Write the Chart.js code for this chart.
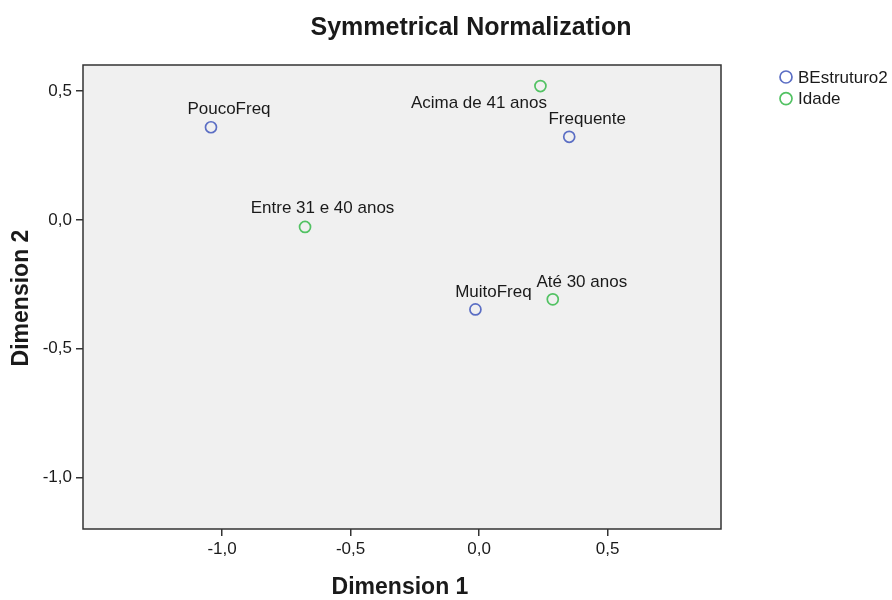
<!DOCTYPE html>
<html><head><meta charset="utf-8">
<script src="https://cdn.jsdelivr.net/npm/chart.js@4"></script>
<style>html,body{margin:0;padding:0;background:#fff}#wrap{width:892px;height:600px;position:relative}</style>
</head><body><div id="wrap"><canvas id="c"></canvas></div>
<script>
// ---- data ----
const chartTitle = 'Symmetrical Normalization';
const xTitle = 'Dimension 1';
const yTitle = 'Dimension 2';
const xTicks = [-1.0, -0.5, 0.0, 0.5];
const yTicks = [-1.0, -0.5, 0.0, 0.5];
const seriesNames = ['BEstruturo2', 'Idade'];
const bestruturoLabels = ['PoucoFreq', 'Frequente', 'MuitoFreq'];
const bestruturoDim1 = [-1.043, 0.351, -0.014];
const bestruturoDim2 = [0.360, 0.323, -0.347];
const idadeLabels = ['Acima de 41 anos', 'Entre 31 e 40 anos', 'Até 30 anos'];
const idadeDim1 = [0.239, -0.677, 0.287];
const idadeDim2 = [0.520, -0.027, -0.308];

// ---- styles ----
const FONT = '"Liberation Sans", Arial, sans-serif';
const colors = ['#5b6ec4', '#52c263'];
// label placement (pixel offsets of text centre / baseline from the marker)
const labelOffsets = [
  [[18, -13], [18, -13], [18, -12]],
  [[-61.5, 22], [17.5, -14], [29, -12.6]]
];
const fmt = v => v.toFixed(1).replace('.', ',');

const mk = (xs, ys) => xs.map((x, i) => ({x: x, y: ys[i]}));
const datasets = [
  {label: seriesNames[0], data: mk(bestruturoDim1, bestruturoDim2), pointLabels: bestruturoLabels},
  {label: seriesNames[1], data: mk(idadeDim1, idadeDim2), pointLabels: idadeLabels}
].map((d, i) => Object.assign(d, {
  borderColor: colors[i], backgroundColor: 'rgba(0,0,0,0)',
  pointRadius: 5.5, pointHoverRadius: 5.5, pointBorderWidth: 1.7, showLine: false
}));

const decor = {
  id: 'decor',
  beforeDatasetsDraw(chart) {
    const {ctx, chartArea: a} = chart;
    ctx.save();
    ctx.fillStyle = '#f0f0f0';
    ctx.fillRect(a.left, a.top, a.right - a.left, a.bottom - a.top);
    ctx.restore();
  },
  afterDatasetsDraw(chart) {
    const {ctx, chartArea: a} = chart;
    ctx.save();
    ctx.strokeStyle = '#333';
    ctx.lineWidth = 1.5;
    ctx.strokeRect(a.left, a.top, a.right - a.left, a.bottom - a.top);
    // point labels
    ctx.fillStyle = '#1a1a1a';
    ctx.font = '17px ' + FONT;
    ctx.textAlign = 'center';
    ctx.textBaseline = 'alphabetic';
    chart.data.datasets.forEach((ds, di) => {
      const meta = chart.getDatasetMeta(di);
      meta.data.forEach((pt, i) => {
        const o = labelOffsets[di][i];
        ctx.fillText(ds.pointLabels[i], pt.x + o[0], pt.y + o[1]);
      });
    });
    // title
    ctx.font = 'bold 25px ' + FONT;
    ctx.textBaseline = 'middle';
    ctx.fillText(chartTitle, 471, 28);
    // axis titles
    ctx.font = 'bold 23px ' + FONT;
    ctx.fillText(xTitle, 400, 588);
    ctx.save();
    ctx.translate(22, 298);
    ctx.rotate(-Math.PI / 2);
    ctx.fillText(yTitle, 0, 0);
    ctx.restore();
    // legend
    ctx.textAlign = 'left';
    ctx.font = '17px ' + FONT;
    chart.data.datasets.forEach((ds, di) => {
      const y = 77 + di * 21.6;
      ctx.beginPath();
      ctx.arc(786, y, 6, 0, Math.PI * 2);
      ctx.strokeStyle = ds.borderColor;
      ctx.lineWidth = 1.7;
      ctx.stroke();
      ctx.fillStyle = '#1a1a1a';
      ctx.fillText(ds.label, 798, y + 1);
    });
    ctx.restore();
  }
};

new Chart(document.getElementById('c'), {
  type: 'scatter',
  data: {datasets},
  options: {
    responsive: true, maintainAspectRatio: false, animation: false,
    layout: {padding: {top: 65, right: 171, bottom: 0, left: 0}},
    plugins: {legend: {display: false}, tooltip: {enabled: false}, title: {display: false}},
    scales: {
      x: {
        type: 'linear', min: -1.541, max: 0.9416,
        afterBuildTicks: s => { s.ticks = xTicks.map(v => ({value: v})); },
        afterFit: s => { s.height = 71; },
        grid: {drawOnChartArea: false, drawTicks: true, tickLength: 7, color: '#333', lineWidth: 1.5},
        border: {display: false},
        ticks: {callback: v => fmt(v), color: '#1a1a1a', font: {family: FONT, size: 17}, padding: 3, maxRotation: 0}
      },
      y: {
        type: 'linear', min: -1.1995, max: 0.6017,
        afterBuildTicks: s => { s.ticks = yTicks.map(v => ({value: v})); },
        afterFit: s => { s.width = 83; },
        grid: {drawOnChartArea: false, drawTicks: true, tickLength: 7, color: '#333', lineWidth: 1.5},
        border: {display: false},
        ticks: {callback: v => fmt(v), color: '#1a1a1a', font: {family: FONT, size: 17}, padding: 4}
      }
    }
  },
  plugins: [decor]
});
</script></body></html>
